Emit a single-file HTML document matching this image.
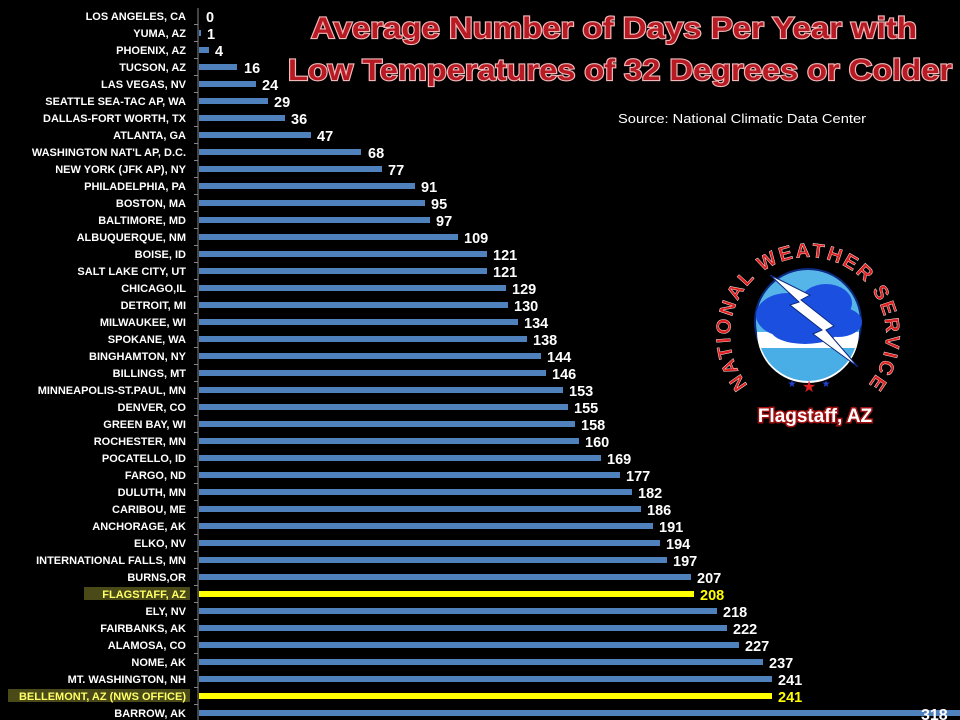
<!DOCTYPE html>
<html><head><meta charset="utf-8"><style>
html,body{margin:0;padding:0;background:#000;}
svg{display:block;}
.l{font-family:"Liberation Sans",sans-serif;font-weight:bold;font-size:11px;fill:#fff;text-anchor:end;}
.v{font-family:"Liberation Sans",sans-serif;font-weight:bold;font-size:14.5px;fill:#fff;}
</style></head><body>
<svg width="960" height="720" viewBox="0 0 960 720" xmlns="http://www.w3.org/2000/svg">
<rect width="960" height="720" fill="#000"/>
<rect x="84" y="587" width="106" height="13" fill="#4a4a18"/>
<rect x="8" y="689" width="182" height="13" fill="#4a4a18"/>
<line x1="198" y1="8" x2="198" y2="720" stroke="#888" stroke-width="1"/>
<g stroke="#888" stroke-width="1">
<line x1="194" y1="24.5" x2="198" y2="24.5"/><line x1="194" y1="41.5" x2="198" y2="41.5"/><line x1="194" y1="58.5" x2="198" y2="58.5"/><line x1="194" y1="75.5" x2="198" y2="75.5"/><line x1="194" y1="92.5" x2="198" y2="92.5"/><line x1="194" y1="109.5" x2="198" y2="109.5"/><line x1="194" y1="126.5" x2="198" y2="126.5"/><line x1="194" y1="143.5" x2="198" y2="143.5"/><line x1="194" y1="160.5" x2="198" y2="160.5"/><line x1="194" y1="177.5" x2="198" y2="177.5"/><line x1="194" y1="194.5" x2="198" y2="194.5"/><line x1="194" y1="211.5" x2="198" y2="211.5"/><line x1="194" y1="228.5" x2="198" y2="228.5"/><line x1="194" y1="245.5" x2="198" y2="245.5"/><line x1="194" y1="262.5" x2="198" y2="262.5"/><line x1="194" y1="279.5" x2="198" y2="279.5"/><line x1="194" y1="296.5" x2="198" y2="296.5"/><line x1="194" y1="313.5" x2="198" y2="313.5"/><line x1="194" y1="330.5" x2="198" y2="330.5"/><line x1="194" y1="347.5" x2="198" y2="347.5"/><line x1="194" y1="364.5" x2="198" y2="364.5"/><line x1="194" y1="381.5" x2="198" y2="381.5"/><line x1="194" y1="398.5" x2="198" y2="398.5"/><line x1="194" y1="415.5" x2="198" y2="415.5"/><line x1="194" y1="432.5" x2="198" y2="432.5"/><line x1="194" y1="449.5" x2="198" y2="449.5"/><line x1="194" y1="466.5" x2="198" y2="466.5"/><line x1="194" y1="483.5" x2="198" y2="483.5"/><line x1="194" y1="500.5" x2="198" y2="500.5"/><line x1="194" y1="517.5" x2="198" y2="517.5"/><line x1="194" y1="534.5" x2="198" y2="534.5"/><line x1="194" y1="551.5" x2="198" y2="551.5"/><line x1="194" y1="568.5" x2="198" y2="568.5"/><line x1="194" y1="585.5" x2="198" y2="585.5"/><line x1="194" y1="602.5" x2="198" y2="602.5"/><line x1="194" y1="619.5" x2="198" y2="619.5"/><line x1="194" y1="636.5" x2="198" y2="636.5"/><line x1="194" y1="653.5" x2="198" y2="653.5"/><line x1="194" y1="670.5" x2="198" y2="670.5"/><line x1="194" y1="687.5" x2="198" y2="687.5"/><line x1="194" y1="704.5" x2="198" y2="704.5"/>
</g>
<g fill="#4f81bd">
<rect x="199" y="30" width="2" height="6"/>
<rect x="199" y="47" width="10" height="6"/>
<rect x="199" y="64" width="38" height="6"/>
<rect x="199" y="81" width="57" height="6"/>
<rect x="199" y="98" width="69" height="6"/>
<rect x="199" y="115" width="86" height="6"/>
<rect x="199" y="132" width="112" height="6"/>
<rect x="199" y="149" width="162" height="6"/>
<rect x="199" y="166" width="183" height="6"/>
<rect x="199" y="183" width="216" height="6"/>
<rect x="199" y="200" width="226" height="6"/>
<rect x="199" y="217" width="231" height="6"/>
<rect x="199" y="234" width="259" height="6"/>
<rect x="199" y="251" width="288" height="6"/>
<rect x="199" y="268" width="288" height="6"/>
<rect x="199" y="285" width="307" height="6"/>
<rect x="199" y="302" width="309" height="6"/>
<rect x="199" y="319" width="319" height="6"/>
<rect x="199" y="336" width="328" height="6"/>
<rect x="199" y="353" width="342" height="6"/>
<rect x="199" y="370" width="347" height="6"/>
<rect x="199" y="387" width="364" height="6"/>
<rect x="199" y="404" width="369" height="6"/>
<rect x="199" y="421" width="376" height="6"/>
<rect x="199" y="438" width="380" height="6"/>
<rect x="199" y="455" width="402" height="6"/>
<rect x="199" y="472" width="421" height="6"/>
<rect x="199" y="489" width="433" height="6"/>
<rect x="199" y="506" width="442" height="6"/>
<rect x="199" y="523" width="454" height="6"/>
<rect x="199" y="540" width="461" height="6"/>
<rect x="199" y="557" width="468" height="6"/>
<rect x="199" y="574" width="492" height="6"/>
<rect x="199" y="608" width="518" height="6"/>
<rect x="199" y="625" width="528" height="6"/>
<rect x="199" y="642" width="540" height="6"/>
<rect x="199" y="659" width="564" height="6"/>
<rect x="199" y="676" width="573" height="6"/>
<rect x="199" y="710" width="761" height="6"/>
</g>
<g fill="#ffff00">
<rect x="199" y="591" width="495" height="6"/>
<rect x="199" y="693" width="573" height="6"/>
</g>
<text class="l" x="186" y="20">LOS ANGELES, CA</text>
<text class="l" x="186" y="37">YUMA, AZ</text>
<text class="l" x="186" y="54">PHOENIX, AZ</text>
<text class="l" x="186" y="71">TUCSON, AZ</text>
<text class="l" x="186" y="88">LAS VEGAS, NV</text>
<text class="l" x="186" y="105">SEATTLE SEA-TAC AP, WA</text>
<text class="l" x="186" y="122">DALLAS-FORT WORTH, TX</text>
<text class="l" x="186" y="139">ATLANTA, GA</text>
<text class="l" x="186" y="156">WASHINGTON NAT'L AP, D.C.</text>
<text class="l" x="186" y="173">NEW YORK (JFK AP), NY</text>
<text class="l" x="186" y="190">PHILADELPHIA, PA</text>
<text class="l" x="186" y="207">BOSTON, MA</text>
<text class="l" x="186" y="224">BALTIMORE, MD</text>
<text class="l" x="186" y="241">ALBUQUERQUE, NM</text>
<text class="l" x="186" y="258">BOISE, ID</text>
<text class="l" x="186" y="275">SALT LAKE CITY, UT</text>
<text class="l" x="186" y="292">CHICAGO,IL</text>
<text class="l" x="186" y="309">DETROIT, MI</text>
<text class="l" x="186" y="326">MILWAUKEE, WI</text>
<text class="l" x="186" y="343">SPOKANE, WA</text>
<text class="l" x="186" y="360">BINGHAMTON, NY</text>
<text class="l" x="186" y="377">BILLINGS, MT</text>
<text class="l" x="186" y="394">MINNEAPOLIS-ST.PAUL, MN</text>
<text class="l" x="186" y="411">DENVER, CO</text>
<text class="l" x="186" y="428">GREEN BAY, WI</text>
<text class="l" x="186" y="445">ROCHESTER, MN</text>
<text class="l" x="186" y="462">POCATELLO, ID</text>
<text class="l" x="186" y="479">FARGO, ND</text>
<text class="l" x="186" y="496">DULUTH, MN</text>
<text class="l" x="186" y="513">CARIBOU, ME</text>
<text class="l" x="186" y="530">ANCHORAGE, AK</text>
<text class="l" x="186" y="547">ELKO, NV</text>
<text class="l" x="186" y="564">INTERNATIONAL FALLS, MN</text>
<text class="l" x="186" y="581">BURNS,OR</text>
<text class="l" x="186" y="598" style="fill:#ffff66">FLAGSTAFF, AZ</text>
<text class="l" x="186" y="615">ELY, NV</text>
<text class="l" x="186" y="632">FAIRBANKS, AK</text>
<text class="l" x="186" y="649">ALAMOSA, CO</text>
<text class="l" x="186" y="666">NOME, AK</text>
<text class="l" x="186" y="683">MT. WASHINGTON, NH</text>
<text class="l" x="186" y="700" style="fill:#ffff66">BELLEMONT, AZ (NWS OFFICE)</text>
<text class="l" x="186" y="717">BARROW, AK</text>
<text class="v" x="206" y="22">0</text>
<text class="v" x="207" y="39">1</text>
<text class="v" x="215" y="56">4</text>
<text class="v" x="244" y="73">16</text>
<text class="v" x="262" y="90">24</text>
<text class="v" x="274" y="107">29</text>
<text class="v" x="291" y="124">36</text>
<text class="v" x="317" y="141">47</text>
<text class="v" x="368" y="158">68</text>
<text class="v" x="388" y="175">77</text>
<text class="v" x="421" y="192">91</text>
<text class="v" x="431" y="209">95</text>
<text class="v" x="436" y="226">97</text>
<text class="v" x="464" y="243">109</text>
<text class="v" x="493" y="260">121</text>
<text class="v" x="493" y="277">121</text>
<text class="v" x="512" y="294">129</text>
<text class="v" x="514" y="311">130</text>
<text class="v" x="524" y="328">134</text>
<text class="v" x="533" y="345">138</text>
<text class="v" x="547" y="362">144</text>
<text class="v" x="552" y="379">146</text>
<text class="v" x="569" y="396">153</text>
<text class="v" x="574" y="413">155</text>
<text class="v" x="581" y="430">158</text>
<text class="v" x="585" y="447">160</text>
<text class="v" x="607" y="464">169</text>
<text class="v" x="626" y="481">177</text>
<text class="v" x="638" y="498">182</text>
<text class="v" x="647" y="515">186</text>
<text class="v" x="659" y="532">191</text>
<text class="v" x="666" y="549">194</text>
<text class="v" x="673" y="566">197</text>
<text class="v" x="697" y="583">207</text>
<text class="v" x="700" y="600" style="fill:#ffff00">208</text>
<text class="v" x="723" y="617">218</text>
<text class="v" x="733" y="634">222</text>
<text class="v" x="745" y="651">227</text>
<text class="v" x="769" y="668">237</text>
<text class="v" x="778" y="685">241</text>
<text class="v" x="778" y="702" style="fill:#ffff00">241</text>
<text class="v" x="921" y="720" style="font-size:16px">318</text>
<g font-family="Liberation Sans, sans-serif" font-weight="bold" font-size="30" fill="#b81a24" stroke="#f0b8b8" stroke-width="2.2" paint-order="stroke" text-anchor="middle">
<text x="614" y="38" textLength="606" lengthAdjust="spacingAndGlyphs">Average Number of Days Per Year with</text>
<text x="620" y="80" textLength="664" lengthAdjust="spacingAndGlyphs">Low Temperatures of 32 Degrees or Colder</text>
</g>
<text x="618" y="123" font-family="Liberation Sans, sans-serif" font-size="13" fill="#fff" textLength="248" lengthAdjust="spacingAndGlyphs">Source:  National Climatic Data Center</text>
<defs><path id="arc" d="M 748 385 A 78 78 0 1 1 868 385"/></defs>
<circle cx="808" cy="322" r="53" fill="#55b5e8" stroke="#0b2a80" stroke-width="2"/>
<path d="M 757 332 A 51 51 0 0 0 859 332 Z" fill="#ffffff"/>
<path d="M 761 348 A 50 50 0 0 0 855 348 Z" fill="#4aaee6"/>
<g fill="#1b4fe0">
<ellipse cx="788" cy="315" rx="32" ry="22"/>
<ellipse cx="826" cy="303" rx="26" ry="19"/>
<ellipse cx="838" cy="322" rx="24" ry="15"/>
<ellipse cx="805" cy="330" rx="34" ry="14"/>
</g>
<polygon points="770,275 810,295 801,300 834,326 826,330 858,367 813,334 822,330 790,305 799,302" fill="#fff" stroke="#0b2a80" stroke-width="1"/>
<text font-family="Liberation Sans, sans-serif" font-weight="bold" font-size="20" fill="#e02020" stroke="#fff" stroke-width="0.4"><textPath href="#arc" textLength="352" lengthAdjust="spacing">NATIONAL WEATHER SERVICE</textPath></text>
<text x="792" y="387" font-size="10" fill="#2040d0" text-anchor="middle">★</text>
<text x="809" y="392" font-size="16" fill="#e02020" text-anchor="middle">★</text>
<text x="826" y="387" font-size="10" fill="#2040d0" text-anchor="middle">★</text>
<text x="815" y="422" font-family="Liberation Sans, sans-serif" font-weight="bold" font-size="19" fill="#fff" stroke="#a01010" stroke-width="3" paint-order="stroke" text-anchor="middle">Flagstaff, AZ</text>
</svg>
</body></html>
